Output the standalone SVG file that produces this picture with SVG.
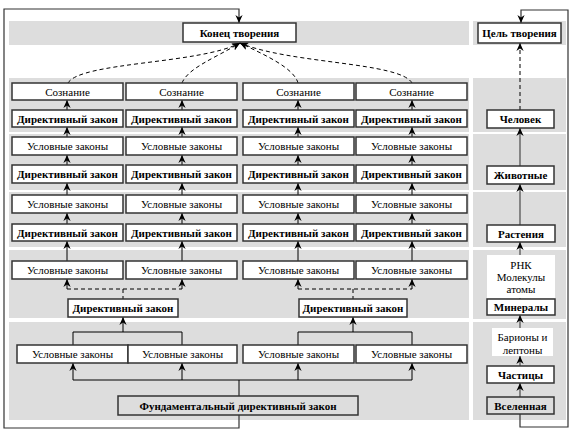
<svg xmlns="http://www.w3.org/2000/svg" width="579" height="434" viewBox="0 0 579 434">
<defs>
<style>
.bg{fill:#ffffff}
.band{fill:#dddddd}
.box{fill:#ffffff;stroke:#333333;stroke-width:1.5}
.gbox{fill:#dddddd;stroke:#333333;stroke-width:1.5}
.plain{fill:#ffffff}
.t{font-family:'Liberation Serif','Noto Serif CJK SC',serif;font-size:11px;text-anchor:middle;fill:#000000}
.b{font-weight:bold}
.c{fill:none;stroke:#000000;stroke-width:1}
.g{fill:none;stroke:#555555;stroke-width:1.3}
.d{stroke-dasharray:4,3}
.f{fill:none;stroke:#333333;stroke-width:1.2}
</style>
<marker id="ah" viewBox="0 0 10 10" refX="10" refY="5" markerWidth="8" markerHeight="8" markerUnits="userSpaceOnUse" orient="auto">
<path d="M0,0.5 L10,5 L0,9.5 L3,5 Z" fill="#000000"/>
</marker>
</defs>
<rect class="bg" x="0" y="0" width="579" height="434"/>
<g id="bands">
<rect class="band" x="9" y="21" width="460" height="24"/>
<rect class="band" x="473" y="21" width="93" height="24"/>
<rect class="band" x="9" y="78" width="460" height="54"/>
<rect class="band" x="9" y="134" width="460" height="56"/>
<rect class="band" x="9" y="192" width="460" height="55"/>
<rect class="band" x="9" y="250" width="460" height="68"/>
<rect class="band" x="9" y="322" width="460" height="98"/>
<rect class="band" x="473" y="78" width="93" height="54"/>
<rect class="band" x="473" y="134" width="93" height="56"/>
<rect class="band" x="473" y="192" width="93" height="55"/>
<rect class="band" x="473" y="250" width="93" height="69"/>
<rect class="band" x="473" y="322" width="93" height="98"/>
</g>
<g id="connectors">
<path class="f" d="M239,415 V428 H4 V9 H239 V23" marker-end="url(#ah)"/>
<path class="f" d="M520,414 V427 H568 V10 H521 V23" marker-end="url(#ah)"/>
<path class="c d" d="M68,83 C80,62 200,64 240,43" marker-end="url(#ah)"/>
<path class="c d" d="M182,83 C188,68 215,58 240,43" marker-end="url(#ah)"/>
<path class="c d" d="M298,83 C294,68 265,55 240,43" marker-end="url(#ah)"/>
<path class="c d" d="M412,83 C400,62 290,64 240,43" marker-end="url(#ah)"/>
<path class="c" d="M67,110 V100" marker-end="url(#ah)"/>
<path class="c" d="M182,110 V100" marker-end="url(#ah)"/>
<path class="c" d="M298,110 V100" marker-end="url(#ah)"/>
<path class="c" d="M412,110 V100" marker-end="url(#ah)"/>
<path class="c" d="M67,137 V127" marker-end="url(#ah)"/>
<path class="c" d="M182,137 V127" marker-end="url(#ah)"/>
<path class="c" d="M298,137 V127" marker-end="url(#ah)"/>
<path class="c" d="M412,137 V127" marker-end="url(#ah)"/>
<path class="c" d="M67,165 V155" marker-end="url(#ah)"/>
<path class="c" d="M182,165 V155" marker-end="url(#ah)"/>
<path class="c" d="M298,165 V155" marker-end="url(#ah)"/>
<path class="c" d="M412,165 V155" marker-end="url(#ah)"/>
<path class="c" d="M67,195 V183" marker-end="url(#ah)"/>
<path class="c" d="M182,195 V183" marker-end="url(#ah)"/>
<path class="c" d="M298,195 V183" marker-end="url(#ah)"/>
<path class="c" d="M412,195 V183" marker-end="url(#ah)"/>
<path class="c" d="M67,224 V213" marker-end="url(#ah)"/>
<path class="c" d="M182,224 V213" marker-end="url(#ah)"/>
<path class="c" d="M298,224 V213" marker-end="url(#ah)"/>
<path class="c" d="M412,224 V213" marker-end="url(#ah)"/>
<path class="c" d="M67,261 V241" marker-end="url(#ah)"/>
<path class="c" d="M182,261 V241" marker-end="url(#ah)"/>
<path class="c" d="M298,261 V241" marker-end="url(#ah)"/>
<path class="c" d="M412,261 V241" marker-end="url(#ah)"/>
<path class="c d" d="M67,289 H182 M123,289 V299 M298,289 H412 M353,289 V299"/>
<path class="c" d="M67,289 V279" marker-end="url(#ah)"/>
<path class="c" d="M182,289 V279" marker-end="url(#ah)"/>
<path class="c" d="M298,289 V279" marker-end="url(#ah)"/>
<path class="c" d="M412,289 V279" marker-end="url(#ah)"/>
<path class="c" d="M73,345 V332 H182 V345 M298,345 V332 H412 V345"/>
<path class="c" d="M123,332 V317" marker-end="url(#ah)"/>
<path class="c" d="M353,332 V317" marker-end="url(#ah)"/>
<path class="c" d="M73,380 H412 M239,380 V396"/>
<path class="c" d="M73,380 V363" marker-end="url(#ah)"/>
<path class="c" d="M182,380 V363" marker-end="url(#ah)"/>
<path class="c" d="M298,380 V363" marker-end="url(#ah)"/>
<path class="c" d="M412,380 V363" marker-end="url(#ah)"/>
<path class="c d" d="M520,110 V43" marker-end="url(#ah)"/>
<path class="g" d="M520,166 V128" marker-end="url(#ah)"/>
<path class="g" d="M520,225 V184" marker-end="url(#ah)"/>
<path class="g" d="M520,299 V242" marker-end="url(#ah)"/>
<path class="g" d="M520,328 V315" marker-end="url(#ah)"/>
<path class="g" d="M520,366 V356" marker-end="url(#ah)"/>
<path class="g" d="M520,397 V383" marker-end="url(#ah)"/>
</g>
<g id="n_end"><rect class="box" x="183" y="23" width="113" height="19"/><text class="t b" x="239.5" y="36.5">Конец творения</text></g>
<g id="n_goal"><rect class="box" x="478" y="23" width="83" height="20"/><text class="t b" x="519.5" y="37">Цель творения</text></g>

<g id="n_s1"><rect class="box" x="12" y="83" width="111" height="17"/><text class="t" x="67.5" y="95.5">Сознание</text></g>
<g id="n_s2"><rect class="box" x="126" y="83" width="111" height="17"/><text class="t" x="181.5" y="95.5">Сознание</text></g>
<g id="n_s3"><rect class="box" x="243" y="83" width="111" height="17"/><text class="t" x="298.5" y="95.5">Сознание</text></g>
<g id="n_s4"><rect class="box" x="356" y="83" width="111" height="17"/><text class="t" x="411.5" y="95.5">Сознание</text></g>

<g id="n_d1a"><rect class="box" x="12" y="110" width="111" height="17"/><text class="t b" x="67.5" y="122.5">Директивный закон</text></g>
<g id="n_d2a"><rect class="box" x="126" y="110" width="111" height="17"/><text class="t b" x="181.5" y="122.5">Директивный закон</text></g>
<g id="n_d3a"><rect class="box" x="243" y="110" width="111" height="17"/><text class="t b" x="298.5" y="122.5">Директивный закон</text></g>
<g id="n_d4a"><rect class="box" x="356" y="110" width="111" height="17"/><text class="t b" x="411.5" y="122.5">Директивный закон</text></g>

<g id="n_u1a"><rect class="box" x="12" y="137" width="111" height="18"/><text class="t" x="67.5" y="150">Условные законы</text></g>
<g id="n_u2a"><rect class="box" x="126" y="137" width="111" height="18"/><text class="t" x="181.5" y="150">Условные законы</text></g>
<g id="n_u3a"><rect class="box" x="243" y="137" width="111" height="18"/><text class="t" x="298.5" y="150">Условные законы</text></g>
<g id="n_u4a"><rect class="box" x="356" y="137" width="111" height="18"/><text class="t" x="411.5" y="150">Условные законы</text></g>

<g id="n_d1b"><rect class="box" x="12" y="165" width="111" height="18"/><text class="t b" x="67.5" y="178">Директивный закон</text></g>
<g id="n_d2b"><rect class="box" x="126" y="165" width="111" height="18"/><text class="t b" x="181.5" y="178">Директивный закон</text></g>
<g id="n_d3b"><rect class="box" x="243" y="165" width="111" height="18"/><text class="t b" x="298.5" y="178">Директивный закон</text></g>
<g id="n_d4b"><rect class="box" x="356" y="165" width="111" height="18"/><text class="t b" x="411.5" y="178">Директивный закон</text></g>

<g id="n_u1b"><rect class="box" x="12" y="195" width="111" height="18"/><text class="t" x="67.5" y="208">Условные законы</text></g>
<g id="n_u2b"><rect class="box" x="126" y="195" width="111" height="18"/><text class="t" x="181.5" y="208">Условные законы</text></g>
<g id="n_u3b"><rect class="box" x="243" y="195" width="111" height="18"/><text class="t" x="298.5" y="208">Условные законы</text></g>
<g id="n_u4b"><rect class="box" x="356" y="195" width="111" height="18"/><text class="t" x="411.5" y="208">Условные законы</text></g>

<g id="n_d1c"><rect class="box" x="12" y="224" width="111" height="17"/><text class="t b" x="67.5" y="236.5">Директивный закон</text></g>
<g id="n_d2c"><rect class="box" x="126" y="224" width="111" height="17"/><text class="t b" x="181.5" y="236.5">Директивный закон</text></g>
<g id="n_d3c"><rect class="box" x="243" y="224" width="111" height="17"/><text class="t b" x="298.5" y="236.5">Директивный закон</text></g>
<g id="n_d4c"><rect class="box" x="356" y="224" width="111" height="17"/><text class="t b" x="411.5" y="236.5">Директивный закон</text></g>

<g id="n_u1c"><rect class="box" x="12" y="261" width="111" height="18"/><text class="t" x="67.5" y="274">Условные законы</text></g>
<g id="n_u2c"><rect class="box" x="126" y="261" width="111" height="18"/><text class="t" x="181.5" y="274">Условные законы</text></g>
<g id="n_u3c"><rect class="box" x="243" y="261" width="111" height="18"/><text class="t" x="298.5" y="274">Условные законы</text></g>
<g id="n_u4c"><rect class="box" x="356" y="261" width="111" height="18"/><text class="t" x="411.5" y="274">Условные законы</text></g>

<g id="n_dL"><rect class="box" x="68" y="299" width="110" height="18"/><text class="t b" x="123" y="312">Директивный закон</text></g>
<g id="n_dR"><rect class="box" x="299" y="299" width="108" height="18"/><text class="t b" x="353" y="312">Директивный закон</text></g>

<g id="n_u1d"><rect class="box" x="17" y="345" width="111" height="18"/><text class="t" x="72.5" y="358">Условные законы</text></g>
<g id="n_u2d"><rect class="box" x="128" y="345" width="109" height="18"/><text class="t" x="182.5" y="358">Условные законы</text></g>
<g id="n_u3d"><rect class="box" x="243" y="345" width="111" height="18"/><text class="t" x="298.5" y="358">Условные законы</text></g>
<g id="n_u4d"><rect class="box" x="356" y="345" width="111" height="18"/><text class="t" x="411.5" y="358">Условные законы</text></g>

<g id="n_fund"><rect class="gbox" x="118" y="396" width="240" height="19"/><text class="t b" x="238" y="409.5">Фундаментальный директивный закон</text></g>

<g id="n_man"><rect class="box" x="487" y="110" width="67" height="18"/><text class="t b" x="520.5" y="123">Человек</text></g>
<g id="n_anim"><rect class="box" x="487" y="166" width="67" height="18"/><text class="t b" x="520.5" y="179">Животные</text></g>
<g id="n_plant"><rect class="box" x="487" y="225" width="68" height="17"/><text class="t b" x="521" y="237.5">Растения</text></g>
<g id="n_rna"><rect class="plain" x="487" y="255" width="68" height="43"/><text class="t" x="521" y="269">РНК</text><text class="t" x="521" y="281">Молекулы</text><text class="t" x="521" y="293">атомы</text></g>
<g id="n_min"><rect class="box" x="487" y="299" width="68" height="16"/><text class="t b" x="521" y="311">Минералы</text></g>
<g id="n_bar"><rect class="plain" x="492" y="328" width="61" height="28"/><text class="t" x="522.5" y="341">Барионы и</text><text class="t" x="522.5" y="354">лептоны</text></g>
<g id="n_part"><rect class="box" x="487" y="366" width="67" height="17"/><text class="t b" x="520.5" y="378.5">Частицы</text></g>
<g id="n_univ"><rect class="gbox" x="487" y="397" width="67" height="17"/><text class="t b" x="520.5" y="409.5">Вселенная</text></g>
</svg>
